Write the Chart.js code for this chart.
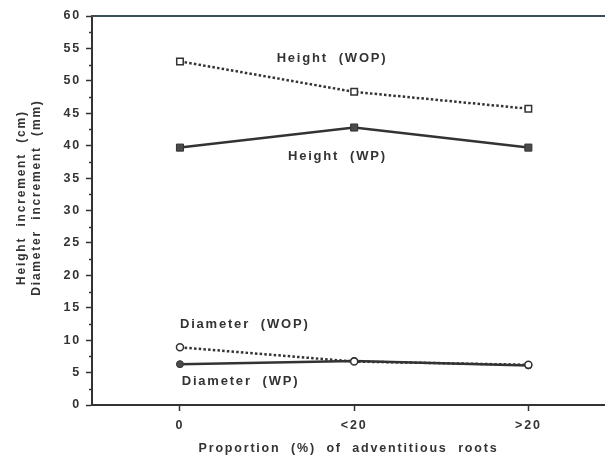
<!DOCTYPE html>
<html>
<head>
<meta charset="utf-8">
<script src="https://cdn.jsdelivr.net/npm/chart.js@4/dist/chart.umd.min.js"></script>
<style>
  html, body { margin: 0; padding: 0; background: #fff; }
  #wrap { width: 605px; height: 456px; }
</style>
</head>
<body>
<div id="wrap"><canvas id="c" width="605" height="456"></canvas></div>
<script>
// ---- data ----
const categories  = ['0', '<20', '>20'];
const heightWOP   = [53.0, 48.3, 45.7];
const heightWP    = [39.7, 42.8, 39.7];
const diameterWOP = [8.9, 6.7, 6.2];
const diameterWP  = [6.3, 6.8, 6.1];
const yTicks = [0, 5, 10, 15, 20, 25, 30, 35, 40, 45, 50, 55, 60];

const xTitle = 'Proportion  (%)  of  adventitious  roots';
const yTitleLines = ['Height  increment  (cm)', 'Diameter  increment  (mm)'];

// in-chart series labels (data coordinates of left/middle anchor)
const seriesLabels = [
  { text: 'Height  (WOP)',   x: 0.555, y: 53.5 },
  { text: 'Height  (WP)',    x: 0.62,  y: 38.4 },
  { text: 'Diameter  (WOP)', x: 0.0,   y: 12.4 },
  { text: 'Diameter  (WP)',  x: 0.01,  y: 3.6 }
];

const INK = '#333333';
const FAMILY = '"Liberation Sans", Arial, sans-serif';
const FONT = { family: FAMILY, size: 12.5, weight: 'bold' };
const SPACING = '1.8px';

const toXY = arr => arr.map((v, i) => ({ x: i, y: v }));

const spacingPlugin = {
  id: 'spacing',
  beforeUpdate(chart) { chart.ctx.letterSpacing = SPACING; },
  beforeLayout(chart) { chart.ctx.letterSpacing = SPACING; },
  beforeDraw(chart) { chart.ctx.letterSpacing = SPACING; }
};

const decoPlugin = {
  id: 'deco',
  afterDraw(chart) {
    const ctx = chart.ctx;
    const area = chart.chartArea;
    const ys = chart.scales.y;
    const xs = chart.scales.x;
    ctx.save();
    // top frame line
    ctx.strokeStyle = '#3b4f57';
    ctx.lineWidth = 2;
    ctx.beginPath();
    ctx.moveTo(area.left - 1, area.top);
    ctx.lineTo(area.right, area.top);
    ctx.stroke();
    // minor y ticks (between labelled ticks)
    ctx.strokeStyle = INK;
    ctx.lineWidth = 1.5;
    for (let i = 0; i < yTicks.length - 1; i++) {
      const v = (yTicks[i] + yTicks[i + 1]) / 2;
      const py = Math.round(ys.getPixelForValue(v)) + 0.5;
      ctx.beginPath();
      ctx.moveTo(area.left - 3, py);
      ctx.lineTo(area.left, py);
      ctx.stroke();
    }
    ctx.fillStyle = INK;
    // series labels
    ctx.font = 'bold 13px ' + FAMILY;
    ctx.letterSpacing = SPACING;
    ctx.textBaseline = 'middle';
    ctx.textAlign = 'left';
    seriesLabels.forEach(l => {
      ctx.fillText(l.text, xs.getPixelForValue(l.x), ys.getPixelForValue(l.y));
    });
    // y axis title (two rotated lines)
    ctx.font = 'bold 12px ' + FAMILY;
    ctx.textAlign = 'center';
    const cy = ys.getPixelForValue(32);
    yTitleLines.forEach((t, i) => {
      ctx.save();
      ctx.translate(22 + i * 15, cy);
      ctx.rotate(-Math.PI / 2);
      ctx.fillText(t, 0, 0);
      ctx.restore();
    });
    ctx.restore();
  }
};

new Chart(document.getElementById('c'), {
  type: 'line',
  data: {
    datasets: [
      {
        label: 'Height (WOP)', data: toXY(heightWOP),
        borderColor: INK, borderWidth: 2.5, borderDash: [2.5, 2.2],
        pointStyle: 'rect', pointRadius: 4.6, pointBorderWidth: 1.5,
        pointBackgroundColor: '#ffffff', pointBorderColor: INK
      },
      {
        label: 'Height (WP)', data: toXY(heightWP),
        borderColor: INK, borderWidth: 2.5,
        pointStyle: 'rect', pointRadius: 5, pointBorderWidth: 1,
        pointBackgroundColor: '#4a4a4a', pointBorderColor: INK
      },
      {
        label: 'Diameter (WOP)', data: toXY(diameterWOP),
        borderColor: INK, borderWidth: 2.5, borderDash: [2.5, 2.2],
        pointStyle: 'circle', pointRadius: 3.5, pointBorderWidth: 1.5,
        pointBackgroundColor: '#ffffff', pointBorderColor: INK
      },
      {
        label: 'Diameter (WP)', data: toXY(diameterWP),
        borderColor: INK, borderWidth: 2.5,
        pointStyle: 'circle', pointRadius: 3.5, pointBorderWidth: 1,
        pointBackgroundColor: '#4a4a4a', pointBorderColor: INK
      }
    ]
  },
  options: {
    responsive: false,
    animation: false,
    layout: { autoPadding: false, padding: { top: 16, right: 0, bottom: 0, left: 0 } },
    plugins: { legend: { display: false }, tooltip: { enabled: false } },
    elements: { line: { tension: 0 } },
    scales: {
      x: {
        type: 'linear', min: -0.505, max: 2.44,
        afterBuildTicks: s => { s.ticks = categories.map((_, i) => ({ value: i })); },
        afterFit: s => { s.height = 51; s.paddingRight = 0; s.paddingLeft = 0; },
        ticks: {
          color: INK, font: FONT, padding: 7, maxRotation: 0,
          callback: v => categories[v]
        },
        grid: { drawOnChartArea: false, drawTicks: true, tickLength: 6, tickWidth: 1.5, tickColor: INK },
        border: { display: true, color: INK, width: 2 },
        title: {
          display: true, text: xTitle,
          color: INK, font: FONT, padding: { top: 3, bottom: 0 }
        }
      },
      y: {
        min: 0, max: 60,
        afterBuildTicks: s => { s.ticks = yTicks.map(v => ({ value: v })); },
        afterFit: s => { s.width = 92; s.paddingTop = 0; s.paddingBottom = 0; },
        ticks: { color: INK, font: FONT, padding: 5 },
        grid: { drawOnChartArea: false, drawTicks: true, tickLength: 6, tickWidth: 1.5, tickColor: INK },
        border: { display: true, color: INK, width: 2 },
        title: { display: false }
      }
    }
  },
  plugins: [spacingPlugin, decoPlugin]
});
</script>
</body>
</html>
